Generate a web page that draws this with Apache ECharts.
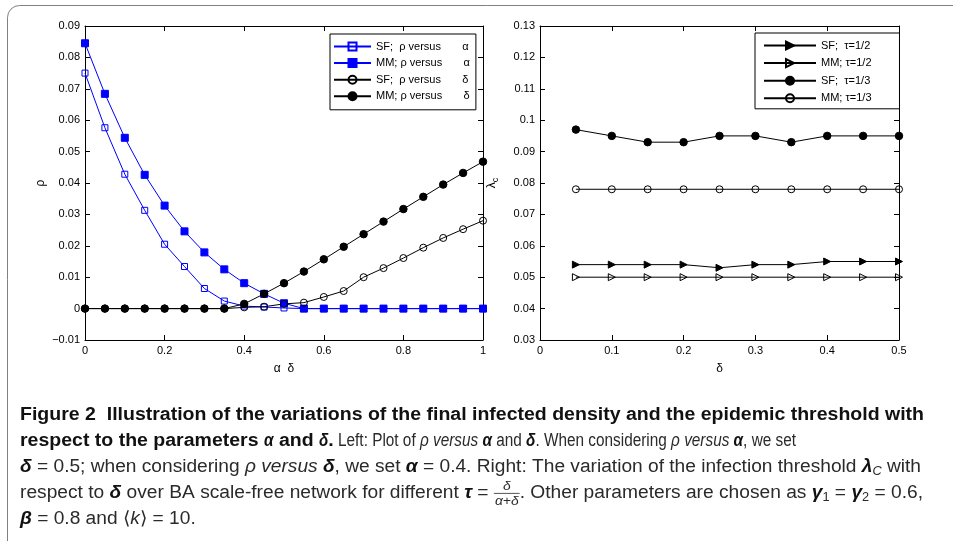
<!DOCTYPE html>
<html>
<head>
<meta charset="utf-8">
<script src="https://cdn.jsdelivr.net/npm/echarts@6/dist/echarts.min.js"></script>
<style>
html,body{margin:0;padding:0;background:#fff;}
#c{width:953px;height:541px;}
</style>
</head>
<body>
<div id="c"></div>
<script>
// ---------------- data ----------------
const paramLeft = [0,0.05,0.1,0.15,0.2,0.25,0.3,0.35,0.4,0.45,0.5,0.55,0.6,0.65,0.7,0.75,0.8,0.85,0.9,0.95,1];
const sfRhoAlpha = [0.075,0.0576,0.0428,0.0313,0.0205,0.0134,0.0064,0.0024,0.0008,0.0005,0.0002,0,0,0,0,0,0,0,0,0,0];
const mmRhoAlpha = [0.0845,0.0684,0.0544,0.0426,0.0328,0.0246,0.0179,0.0125,0.0081,0.0047,0.0017,0,0,0,0,0,0,0,0,0,0];
const sfRhoDelta = [0,0,0,0,0,0,0,0,0.0004,0.0006,0.0015,0.0019,0.0037,0.0056,0.0100,0.0129,0.0161,0.0194,0.0225,0.0253,0.0280];
const mmRhoDelta = [0,0,0,0,0,0,0,0,0.0015,0.0047,0.0081,0.0118,0.0157,0.0197,0.0237,0.0277,0.0317,0.0356,0.0395,0.0432,0.0468];

const deltaRight = [0.05,0.1,0.15,0.2,0.25,0.3,0.35,0.4,0.45,0.5];
const sfTau2 = [0.054,0.054,0.054,0.054,0.053,0.054,0.054,0.055,0.055,0.055];
const mmTau2 = [0.050,0.050,0.050,0.050,0.050,0.050,0.050,0.050,0.050,0.050];
const sfTau3 = [0.097,0.095,0.093,0.093,0.095,0.095,0.093,0.095,0.095,0.095];
const mmTau3 = [0.078,0.078,0.078,0.078,0.078,0.078,0.078,0.078,0.078,0.078];

const leftNames = ['SF;  ρ versus       α','MM; ρ versus       α','SF;  ρ versus       δ','MM; ρ versus       δ'];
const rightNames = ['SF;  τ=1/2','MM; τ=1/2','SF;  τ=1/3','MM; τ=1/3'];

// ---------------- helpers ----------------
const AX_FONT = '"Liberation Sans", Arial, Helvetica, sans-serif';
const pairs = (xs, ys) => xs.map((x, i) => [x, ys[i]]);
const fmt = v => String(Number(v.toFixed(3))).replace('-', '\u2212');

function baseAxis(extra) {
  return Object.assign({
    type: 'value',
    axisLine: {show: true, onZero: false, lineStyle: {color: '#000', width: 1}},
    axisTick: {show: true, inside: true, length: 5, lineStyle: {color: '#000', width: 1}},
    splitLine: {show: false},
    axisLabel: {show: true, color: '#000', fontSize: 11, fontFamily: AX_FONT, margin: 5, formatter: fmt}
  }, extra);
}
function mirror(a, pos) {
  const m = JSON.parse(JSON.stringify(a));
  m.position = pos;
  m.axisLabel = {show: false};
  delete m.name;
  return m;
}

const xL = baseAxis({gridIndex: 0, min: 0, max: 1, interval: 0.2, position: 'bottom',
  name: 'α  δ', nameLocation: 'middle', nameGap: 23,
  nameTextStyle: {color: '#000', fontSize: 12, fontFamily: AX_FONT}});
const yL = baseAxis({gridIndex: 0, min: -0.01, max: 0.09, interval: 0.01, position: 'left',
  name: 'ρ', nameLocation: 'middle', nameGap: 38, nameRotate: 90,
  nameTextStyle: {color: '#000', fontSize: 12, fontFamily: AX_FONT}});
const xR = baseAxis({gridIndex: 1, min: 0, max: 0.5, interval: 0.1, position: 'bottom',
  name: 'δ', nameLocation: 'middle', nameGap: 23,
  nameTextStyle: {color: '#000', fontSize: 12, fontFamily: AX_FONT}});
const yR = baseAxis({gridIndex: 1, min: 0.03, max: 0.13, interval: 0.01, position: 'left',
  name: '{a|λ}{b|c}', nameLocation: 'middle', nameGap: 40, nameRotate: 90,
  nameTextStyle: {color: '#000', fontFamily: AX_FONT,
    rich: {a: {fontSize: 12, fontFamily: AX_FONT, color: '#000'},
           b: {fontSize: 9, fontFamily: AX_FONT, color: '#000', padding: [8, 0, 0, 0]}}}});

function mk(name, xi, yi, data, opt) {
  const filled = opt.filled;
  return {
    type: 'line', name: name, xAxisIndex: xi, yAxisIndex: yi, data: data,
    symbol: opt.symbol, symbolSize: opt.size, symbolRotate: opt.rotate || 0,
    showAllSymbol: true, animation: false, silent: true,
    lineStyle: {color: opt.color, width: 1},
    itemStyle: {color: filled ? opt.color : 'rgba(255,255,255,0)', borderColor: opt.color, borderWidth: 1},
    emphasis: {disabled: true}
  };
}
const BLUE = '#0000ff';

const series = [
  mk(leftNames[0], 0, 0, pairs(paramLeft, sfRhoAlpha), {symbol: 'rect', size: 6, color: BLUE, filled: false}),
  mk(leftNames[1], 0, 0, pairs(paramLeft, mmRhoAlpha), {symbol: 'rect', size: 7, color: BLUE, filled: true}),
  mk(leftNames[2], 0, 0, pairs(paramLeft, sfRhoDelta), {symbol: 'circle', size: 7, color: '#000', filled: false}),
  mk(leftNames[3], 0, 0, pairs(paramLeft, mmRhoDelta), {symbol: 'circle', size: 7.5, color: '#000', filled: true}),
  mk(rightNames[0], 2, 2, pairs(deltaRight, sfTau2), {symbol: 'triangle', size: 7, rotate: -90, color: '#000', filled: true}),
  mk(rightNames[1], 2, 2, pairs(deltaRight, mmTau2), {symbol: 'triangle', size: 7, rotate: -90, color: '#000', filled: false}),
  mk(rightNames[2], 2, 2, pairs(deltaRight, sfTau3), {symbol: 'circle', size: 7.5, color: '#000', filled: true}),
  mk(rightNames[3], 2, 2, pairs(deltaRight, mmTau3), {symbol: 'circle', size: 7, color: '#000', filled: false})
];

// ---------------- caption (laid out by measured text) ----------------
const CAP_FONT = '"Liberation Sans Narrow", "Liberation Sans", Arial, sans-serif';
const CAP_SIZE = 18;
const mctx = document.createElement('canvas').getContext('2d');
function fontOf(st, size) {
  return (st.indexOf('I') >= 0 ? 'italic ' : '') + (st.indexOf('B') >= 0 ? 'bold ' : '') + size + 'px ' + CAP_FONT;
}
function tw(text, font) { mctx.font = font; return mctx.measureText(text).width; }

const capLines = [
  [['B', 'Figure 2  Illustration of the variations of the final infected density and the epidemic threshold with']],
  [['B', 'respect to the parameters '], ['BI', 'α'], ['B', ' and '], ['BI', 'δ'], ['B', '.'], ['R', ' Left: Plot of '],
   ['I', 'ρ versus '], ['BI', 'α'], ['R', ' and '], ['BI', 'δ'], ['R', '. When considering '], ['I', 'ρ versus '],
   ['BI', 'α'], ['R', ', we set']],
  [['BI', 'δ'], ['R', ' = 0.5; when considering '], ['I', 'ρ versus '], ['BI', 'δ'], ['R', ', we set '], ['BI', 'α'],
   ['R', ' = 0.4. Right: The variation of the infection threshold '], ['BI', 'λ'], ['SUBI', 'C'], ['R', ' with']],
  [['R', 'respect to '], ['BI', 'δ'], ['R', ' over BA scale-free network for different '], ['BI', 'τ'], ['R', ' = '],
   ['FRAC', 'δ', 'α+δ'], ['R', '. Other parameters are chosen as '], ['BI', 'γ'], ['SUB', '1'], ['R', ' = '],
   ['BI', 'γ'], ['SUB', '2'], ['R', ' = 0.6,']],
  [['BI', 'β'], ['R', ' = 0.8 and \u27E8'], ['I', 'k'], ['R', '\u27E9 = 10.']]
];
// right edge of each caption line in the picture (null = natural width)
const capLineEnds = [924, 796, 921, 923, null];
const CAP_X = 20, CAP_Y0 = 415.5, CAP_DY = 25.8;
const CAP_COLOR_B = '#111', CAP_COLOR_R = '#2a2a2a';

function segFont(st) {
  if (st === 'SUB') return fontOf('R', 12);
  if (st === 'SUBI') return fontOf('I', 12);
  if (st === 'FRAC') return fontOf('I', 13);
  return fontOf(st, CAP_SIZE);
}
function segW(seg) {
  if (seg[0] === 'FRAC') { const f = segFont('FRAC'); return Math.max(tw(seg[1], f), tw(seg[2], f)) + 2; }
  return tw(seg[1], segFont(seg[0]));
}
const isBold = st => st === 'B';

function buildCaption() {
  const els = [];
  const sB = (capLineEnds[0] - CAP_X) / tw(capLines[0][0][1], fontOf('B', CAP_SIZE));
  let lastR = 0.8;
  capLines.forEach((line, li) => {
    let wb = 0, wr = 0;
    line.forEach(seg => { if (isBold(seg[0])) wb += segW(seg); else wr += segW(seg); });
    let sR = lastR;
    if (capLineEnds[li] !== null && wr > 0) sR = (capLineEnds[li] - CAP_X - sB * wb) / wr;
    if (li === 2) lastR = sR;
    const cy = CAP_Y0 + li * CAP_DY;
    let x = CAP_X;
    line.forEach(seg => {
      const st = seg[0];
      const s = isBold(st) ? sB : sR;
      const f = segFont(st);
      const w = segW(seg) * s;
      const col = (st === 'B' || st === 'BI') ? CAP_COLOR_B : CAP_COLOR_R;
      if (st === 'FRAC') {
        els.push({type: 'text', x: x + w / 2, y: cy - 7, scaleX: s, style: {text: seg[1], font: f, fill: col, align: 'center', verticalAlign: 'middle'}});
        els.push({type: 'text', x: x + w / 2, y: cy + 8, scaleX: s, style: {text: seg[2], font: f, fill: col, align: 'center', verticalAlign: 'middle'}});
        els.push({type: 'line', shape: {x1: x, y1: cy + 0.5, x2: x + w, y2: cy + 0.5}, style: {stroke: col, lineWidth: 0.8}});
      } else {
        const dy = (st === 'SUB' || st === 'SUBI') ? 5 : 0;
        els.push({type: 'text', x: x, y: cy + dy, scaleX: s, style: {text: seg[1], font: f, fill: col, verticalAlign: 'middle'}});
      }
      x += w;
    });
  });
  return {type: 'group', children: els, silent: true};
}

const legendCommon = {
  orient: 'vertical', itemHeight: 10, borderColor: '#000', borderWidth: 1, borderRadius: 0,
  backgroundColor: '#fff', selectedMode: false,
  textStyle: {color: '#000', fontSize: 11, fontFamily: AX_FONT}
};

const option = {
  animation: false,
  backgroundColor: '#fff',
  grid: [
    {left: 85, top: 26, width: 398, height: 314},
    {left: 540, top: 26, width: 359, height: 314}
  ],
  xAxis: [xL, mirror(xL, 'top'), xR, mirror(xR, 'top')].map((a, i) => { a.gridIndex = i < 2 ? 0 : 1; return a; }),
  yAxis: [yL, mirror(yL, 'right'), yR, mirror(yR, 'right')].map((a, i) => { a.gridIndex = i < 2 ? 0 : 1; return a; }),
  legend: [
    Object.assign({}, legendCommon, {left: 330, top: 34, padding: [7, 6, 8, 3], itemGap: 5.6, itemWidth: 37, data: leftNames}),
    Object.assign({}, legendCommon, {left: 755, top: 33, padding: [7, 28, 5, 8], itemGap: 6.6, itemWidth: 52, data: rightNames})
  ],
  series: series,
  graphic: [
    {type: 'rect', silent: true, shape: {x: 7.5, y: 5.5, width: 980, height: 580, r: 12},
     style: {fill: 'none', stroke: '#808080', lineWidth: 1}},
    buildCaption()
  ]
};

const chart = echarts.init(document.getElementById('c'), null, {renderer: 'canvas'});
chart.setOption(option);
</script>
</body>
</html>
